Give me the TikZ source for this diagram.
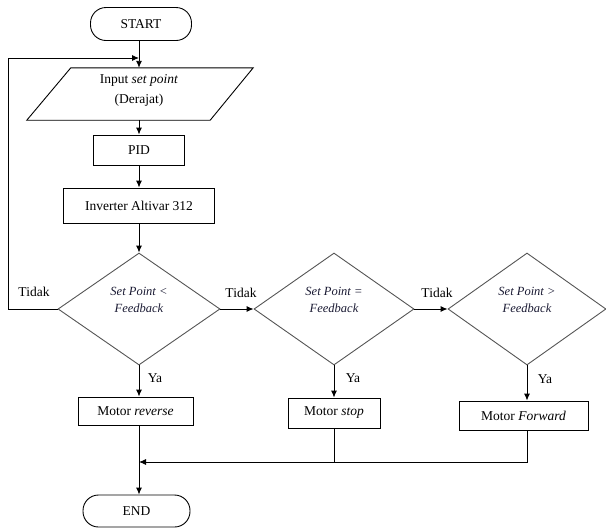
\documentclass[tikz,border=0pt]{standalone}
\usepackage{fontspec}
\setmainfont{Liberation Serif}
\newfontfamily\tnr{Liberation Serif}
\usetikzlibrary{shapes.geometric,arrows.meta}
\definecolor{diagray}{HTML}{555555}
\definecolor{dtxt}{HTML}{1A1A33}
\begin{document}
\begin{tikzpicture}[x=1pt,y=-1pt,
  every node/.style={font=\tnr\fontsize{13.5}{20}\selectfont},
  box/.style={draw, line width=0.9pt, inner sep=0pt, align=center},
  term/.style={draw, line width=0.9pt, rounded corners=15.5pt, inner sep=0pt},
  dec/.style={diamond, draw=diagray, line width=0.9pt, inner sep=0pt},
  dtext/.style={font=\tnr\fontsize{12.5}{17}\selectfont\itshape, text=dtxt, align=center, inner sep=0pt},
  lbl/.style={inner sep=0pt},
  arr/.style={-{Latex[length=7pt,width=6pt]}, line width=0.9pt},
  ln/.style={line width=0.9pt}]
\useasboundingbox (0,0) rectangle (606,528);

\node[term, minimum width=101pt, minimum height=33pt] (start) at (141,24) {START};
\node[minimum width=182pt, minimum height=52pt, inner sep=0pt] (input) at (139,94) {};
\draw[ln] ([xshift=23pt]input.north west) -- ([xshift=23pt]input.north east)
  -- ([xshift=-20pt]input.south east) -- ([xshift=-21pt]input.south west) -- cycle;
\node[align=center, inner sep=0pt] (inputtext) at (139,90) {Input \textit{set point}\\(Derajat)};
\node[box, minimum width=91pt, minimum height=30pt] (pid) at (139,150) {PID};
\node[box, minimum width=151pt, minimum height=35pt] (inv) at (139,205.5) {Inverter Altivar 312};

\node[dec, minimum width=162pt, minimum height=112pt] (d1) at (139,309) {};
\node[dtext] (d1t) at (139,300) {Set Point <\\Feedback};
\node[dec, minimum width=160pt, minimum height=112pt] (d2) at (334,309) {};
\node[dtext] (d2t) at (334,300) {Set Point =\\Feedback};
\node[dec, minimum width=158pt, minimum height=112pt] (d3) at (527,309) {};
\node[dtext] (d3t) at (527,300) {Set Point >\\Feedback};

\node[box, minimum width=115pt, minimum height=28pt] (rev) at (135.5,411) {Motor \textit{reverse}};
\node[box, minimum width=92pt, minimum height=30pt] (stop) at (334,413) {Motor \textit{stop}};
\node[box, minimum width=129pt, minimum height=29pt] (fwd) at (523.5,415.5) {Motor \textit{Forward}};
\node[term, minimum width=107pt, minimum height=32pt] (end) at (136.5,511) {END};

\node[lbl] (t1) at (34,292) {Tidak};
\node[lbl] (t2) at (241,293) {Tidak};
\node[lbl] (t3) at (437,293) {Tidak};
\node[lbl] (y1) at (155,378) {Ya};
\node[lbl] (y2) at (353,378) {Ya};
\node[lbl] (y3) at (545,379) {Ya};

\coordinate (loopc) at (8,58);
\coordinate (merge) at (139,462);

\draw[arr] (input.north |- start.south) -- (input.north);
\draw[arr] (input.south) -- (pid.north);
\draw[arr] (pid.south) -- (inv.north);
\draw[arr] (inv.south) -- (d1.north);
\draw[arr] (d1.west) -- (d1.west -| loopc) -- (loopc) -- (input.north |- loopc);
\draw[arr] (d1.east) -- (d2.west);
\draw[arr] (d2.east) -- (d3.west);
\draw[arr] (d1.south) -- (d1.south |- rev.north);
\draw[arr] (d2.south) -- (stop.north);
\draw[arr] (d3.south) -- (d3.south |- fwd.north);
\draw[arr] (d3.south |- fwd.south) -- (d3.south |- merge) -- (merge);
\draw[ln] (stop.south) -- (stop.south |- merge);
\draw[arr] (d1.south |- rev.south) -- (d1.south |- end.north);
\end{tikzpicture}
\end{document}
